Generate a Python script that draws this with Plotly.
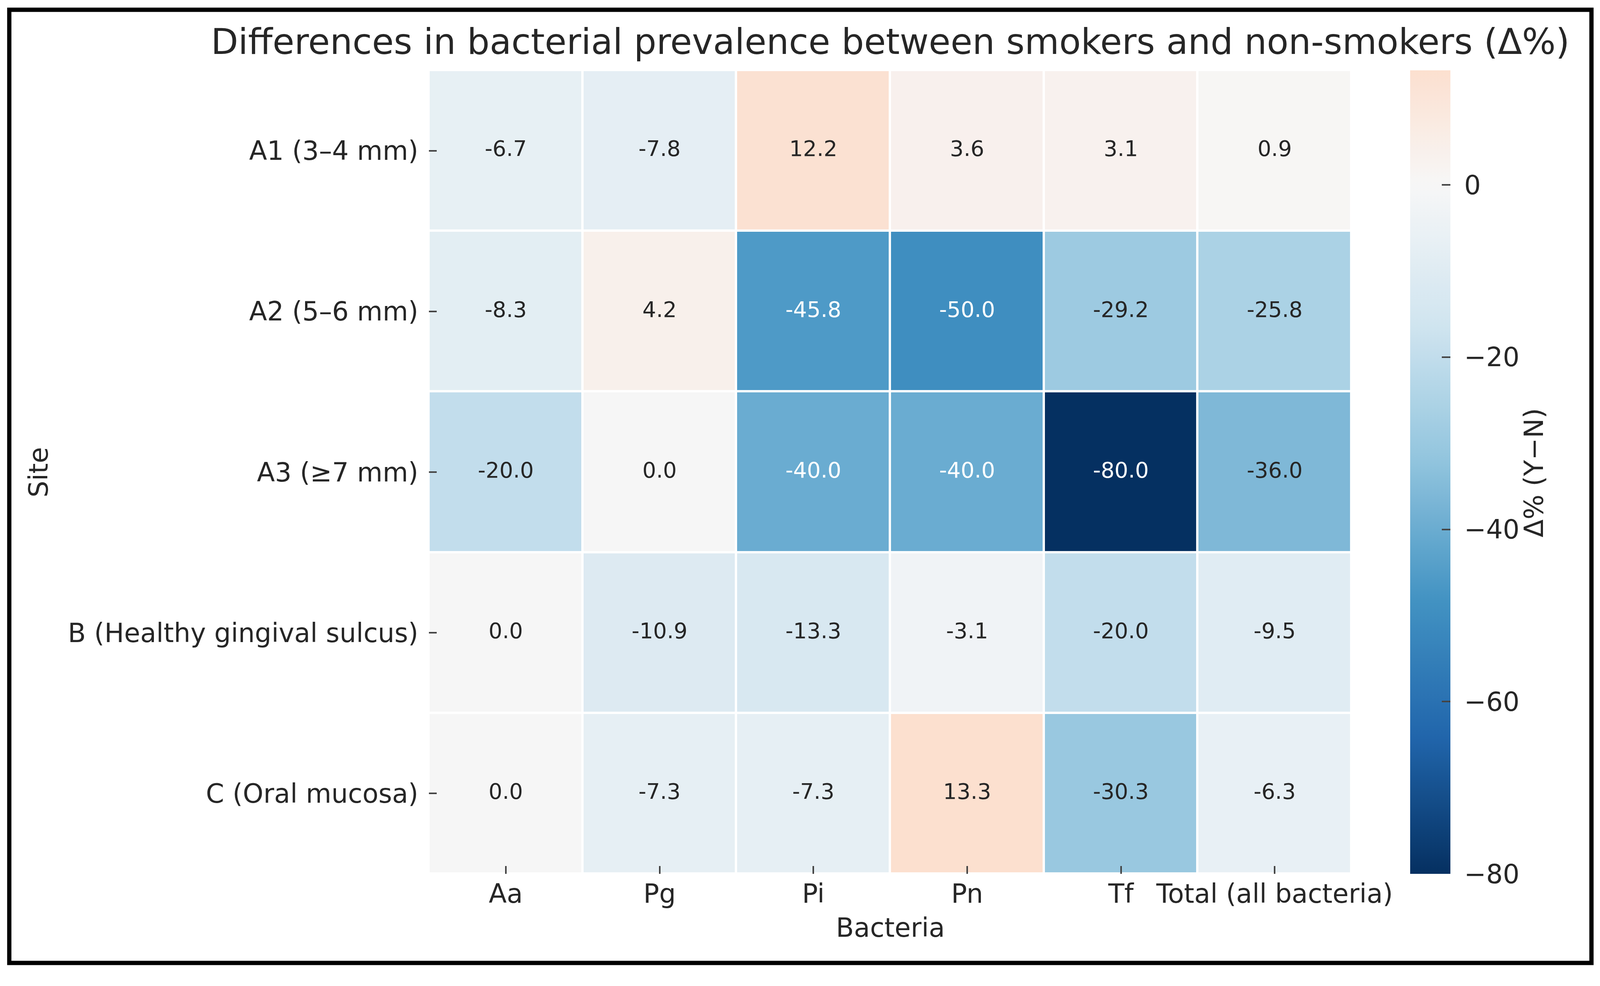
import numpy as np
import plotly.graph_objects as go

# rows / columns of the heatmap
sites = ["A1 (3–4 mm)", "A2 (5–6 mm)", "A3 (≥7 mm)", "B (Healthy gingival sulcus)", "C (Oral mucosa)"]
bacteria = ["Aa", "Pg", "Pi", "Pn", "Tf", "Total (all bacteria)"]

# delta % (smokers - non-smokers), one list per site
delta_a1 = [-6.7, -7.8, 12.2, 3.6, 3.1, 0.9]
delta_a2 = [-8.3, 4.2, -45.8, -50.0, -29.2, -25.8]
delta_a3 = [-20.0, 0.0, -40.0, -40.0, -80.0, -36.0]
delta_b = [0.0, -10.9, -13.3, -3.1, -20.0, -9.5]
delta_c = [0.0, -7.3, -7.3, 13.3, -30.3, -6.3]

cbar_ticks = [0, -20, -40, -60, -80]

z = np.array([delta_a1, delta_a2, delta_a3, delta_b, delta_c])

FONT = "DejaVu Sans"
TXT = "#262626"
# the page viewport comes out ~4100 css px wide, so lay out in those units
K = 4100 / 4152
W, H = round(4152 * K), round(2523 * K)


def px(v):
    return round(v * K, 1)


# RdBu_r anchors (colorbrewer 11), centred at 0 like seaborn's center=0
rdbu_r = ["#053061", "#2166ac", "#4393c3", "#92c5de", "#d1e5f0", "#f7f7f7",
          "#fddbc7", "#f4a582", "#d6604d", "#b2182b", "#67001f"]
anchors = np.array([[int(h[i:i + 2], 16) for i in (1, 3, 5)] for h in rdbu_r], dtype=float)


def rdbu_at(t):
    pos = np.linspace(0, 1, len(anchors))
    return np.array([np.interp(t, pos, anchors[:, k]) for k in range(3)])


vmin, vmax = z.min(), z.max()
half = max(abs(vmin), abs(vmax))


def color_of(v):
    return rdbu_at((v + half) / (2 * half))


colorscale = []
for v in np.linspace(vmin, vmax, 60):
    r, g, b = color_of(v)
    colorscale.append([(v - vmin) / (vmax - vmin), f"rgb({r:.0f},{g:.0f},{b:.0f})"])
colorscale[-1][0] = 1.0


def luminance(rgb):
    c = rgb / 255.0
    c = np.where(c <= 0.03928, c / 12.92, ((c + 0.055) / 1.055) ** 2.4)
    return 0.2126 * c[0] + 0.7152 * c[1] + 0.0722 * c[2]


xs, ys, labels, colors = [], [], [], []
for i, s in enumerate(sites):
    for j, b in enumerate(bacteria):
        xs.append(b)
        ys.append(s)
        labels.append(f"{z[i, j]:.1f}")
        colors.append(TXT if luminance(color_of(z[i, j])) > 0.408 else "white")

# colorbar labels with a little leading gap (plotly puts them tight to the bar)
cbar_text = ["\u00a0" + (f"−{abs(t)}" if t < 0 else f"{t}") for t in cbar_ticks]

fig = go.Figure()
fig.add_trace(go.Heatmap(
    z=z, x=bacteria, y=sites,
    zmin=vmin, zmax=vmax,
    colorscale=colorscale,
    xgap=px(6), ygap=px(6),
    colorbar=dict(
        thickness=px(104), thicknessmode="pixels",
        len=1.0, lenmode="fraction",
        x=1.0635, xanchor="left", xpad=0,
        y=0.5, yanchor="middle", ypad=0,
        outlinewidth=0,
        tickvals=cbar_ticks, ticktext=cbar_text,
        ticks="inside", ticklen=px(22), tickwidth=px(4), tickcolor="#444",
        tickfont=dict(family=FONT, size=px(68), color=TXT),
    ),
    hoverinfo="skip",
))
fig.add_trace(go.Scatter(
    x=xs, y=ys, mode="text", text=labels,
    textfont=dict(family=FONT, size=px(56), color=colors),
    hoverinfo="skip", showlegend=False,
))

fig.update_layout(
    width=W, height=H, autosize=False,
    margin=dict(l=px(1112), r=px(648), t=px(182), b=px(258), autoexpand=False),
    paper_bgcolor="white",
    plot_bgcolor="white",
    showlegend=False,
    font=dict(family=FONT, color=TXT),
    title=dict(
        text="Differences in bacterial prevalence between smokers and non-smokers (Δ%)",
        font=dict(family=FONT, size=px(92), color=TXT),
        xref="paper", x=0.5, xanchor="center",
        yref="container", y=1 - 108 / 2523, yanchor="middle",
    ),
)
fig.update_xaxes(
    type="category", showgrid=False, zeroline=False, showline=False,
    ticks="inside", ticklen=px(20), tickwidth=px(4), tickcolor="#444",
    tickfont=dict(family=FONT, size=px(68), color=TXT),
    ticklabelstandoff=round(px(6)),
)
fig.update_yaxes(
    type="category", autorange="reversed", showgrid=False, zeroline=False, showline=False,
    ticks="inside", ticklen=px(20), tickwidth=px(4), tickcolor="#444",
    tickfont=dict(family=FONT, size=px(68), color=TXT),
    ticklabelstandoff=round(px(26)),
)

# axis titles and colorbar label
fig.add_annotation(text="Bacteria", xref="paper", yref="paper", x=0.5, y=-0.067,
                   xanchor="center", yanchor="middle", showarrow=False,
                   font=dict(family=FONT, size=px(68), color=TXT))
fig.add_annotation(text="Site", xref="paper", yref="paper", x=-0.423, y=0.5,
                   xanchor="center", yanchor="middle", textangle=-90, showarrow=False,
                   font=dict(family=FONT, size=px(68), color=TXT))
fig.add_annotation(text="Δ% (Y−N)", xref="paper", yref="paper", x=1.198, y=0.4993,
                   xanchor="center", yanchor="middle", textangle=-90, showarrow=False,
                   font=dict(family=FONT, size=px(68), color=TXT))

# black frame around the whole image
fig.add_shape(type="rect", xref="paper", yref="paper",
              x0=-0.4548, x1=1.26, y0=-0.1109, y1=1.0754,
              line=dict(color="black", width=px(11)), fillcolor="rgba(0,0,0,0)")

# drop the default page margin so the figure sits at the window's top-left corner
fig.write_html(
    "out.html",
    config={"displayModeBar": False},
    post_script="document.body.style.margin='0';document.documentElement.style.overflow='hidden';",
)
